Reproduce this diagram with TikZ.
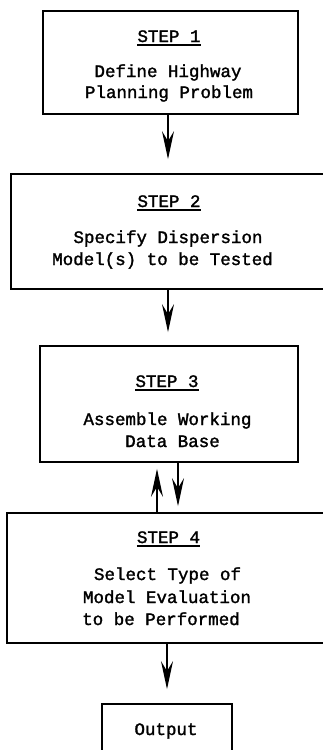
\documentclass[tikz,border=0pt]{standalone}
\usepackage{fontspec}
\newfontfamily\tw{Liberation Mono}[FakeBold=1.6]
\usetikzlibrary{arrows.meta}
\begin{document}
\begin{tikzpicture}[x=1pt,y=-1pt,
  box/.style={draw, line width=1.7pt, rectangle, inner sep=0pt},
  txt/.style={font=\tw\fontsize{17.5}{22}\selectfont, inner sep=0pt, anchor=base},
  arr/.style={line width=1.4pt, -{Stealth[length=28pt,width=12pt,inset=10pt]}},
  ul/.style={line width=1.3pt}]
\useasboundingbox (0,0) rectangle (323,750);
\clip (0,0) rectangle (323,750);
\fill[white] (0,0) rectangle (323,750);

% boxes
\node[box, minimum width=255pt, minimum height=103pt] (b1) at (170.5,62.5) {};
\node[box, minimum width=319pt, minimum height=115pt] (b2) at (170.5,231.5) {};
\node[box, minimum width=258pt, minimum height=116pt] (b3) at (169,404) {};
\node[box, minimum width=323pt, minimum height=130pt] (b4) at (168.5,578) {};
\node[box, minimum width=130pt, minimum height=70pt] (b5) at (167,739) {};

% texts
\node[txt] (s1) at (169,42) {STEP 1};
\node[txt] (t1a) at (168,77) {Define Highway};
\node[txt] (t1b) at (169,98) {Planning Problem};

\node[txt] (s2) at (169,207) {STEP 2};
\node[txt] (t2a) at (168,243) {Specify Dispersion};
\node[txt] (t2b) at (162.5,265) {Model(s) to be Tested};

\node[txt] (s3) at (167,387) {STEP 3};
\node[txt] (t3a) at (167.5,425) {Assemble Working};
\node[txt] (t3b) at (172.5,447) {Data Base};

\node[txt] (s4) at (168.5,543) {STEP 4};
\node[txt] (t4a) at (167.5,580) {Select Type of};
\node[txt] (t4b) at (167,603) {Model Evaluation};
\node[txt] (t4c) at (161,625) {to be Performed};

\node[txt] (t5) at (166,735) {Output};

% underlines
\foreach \s in {s1,s2,s3,s4}
  \draw[ul] ([yshift=-3pt]\s.base west) -- ([yshift=-3pt]\s.base east);

% connector x positions
\coordinate (c1) at (168,0);
\coordinate (c2) at (168,0);
\coordinate (c3u) at (157,0);
\coordinate (c3d) at (178,0);
\coordinate (c4) at (167,0);

% connectors
\draw[arr, shorten >=14pt] (b1.south -| c1) -- (b2.north -| c1);
\draw[arr, shorten >=13pt] (b2.south -| c2) -- (b3.north -| c2);
\draw[arr, shorten >=6pt] (b4.north -| c3u) -- (b3.south -| c3u);
\draw[arr, shorten >=6pt] (b3.south -| c3d) -- (b4.north -| c3d);
\draw[arr, shorten >=14pt] (b4.south -| c4) -- (b5.north -| c4);
\end{tikzpicture}
\end{document}
